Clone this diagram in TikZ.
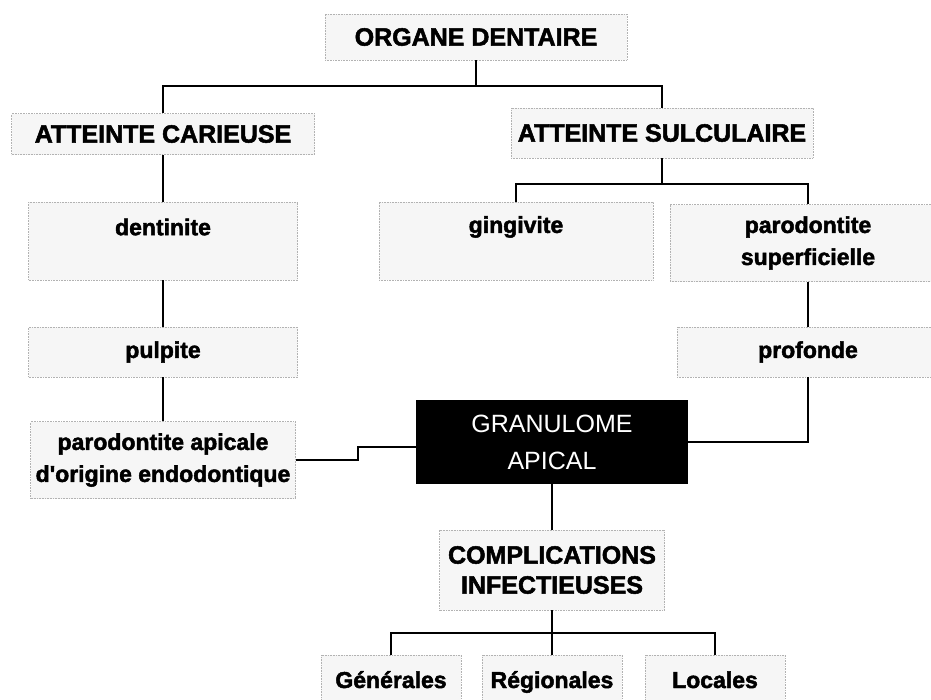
\documentclass[tikz,border=0pt]{standalone}
\usepackage{fontspec}
\setmainfont{Liberation Sans}[BoldFeatures={FakeBold=2}]
\usetikzlibrary{calc}
\tikzset{
	box/.style={draw=gray!60, densely dotted, line width=0.6pt, fill=gray!7, inner sep=0pt, align=center, font=\bfseries\fontsize{23}{32}\selectfont},
	capsbox/.style={box, font=\bfseries\fontsize{25}{30}\selectfont},
	botbox/.style={box, minimum width=140, minimum height=54, text height=17pt, text depth=5pt},
	lbl/.style={inner sep=0pt, align=center, font=\bfseries\fontsize{23}{32}\selectfont},
	darkbox/.style={fill=black, draw=black, inner sep=0pt, align=center, text=white, font=\fontsize{25}{37}\selectfont},
	link/.style={line width=1.7pt}
}

\begin{document}
\begin{tikzpicture}[x=1pt,y=-1pt]
	\useasboundingbox (0,0) rectangle (931,699);
	% first two levels
	\node[capsbox, minimum width=302, minimum height=46] (organe) at (476,37) {ORGANE DENTAIRE};
	\node[capsbox, minimum width=303, minimum height=41] (carieuse) at (163,134) {ATTEINTE CARIEUSE};
	\node[capsbox, minimum width=302, minimum height=50] (sulculaire) at (662,133) {ATTEINTE SULCULAIRE};
	
	% carious branch
	\node[box, minimum width=269, minimum height=78] (dentinite) at (163,241) {};
	\node[lbl] (dentinite-t) at (163,227) {dentinite};
	\node[box, minimum width=269, minimum height=50] (pulpite) at (163,352) {pulpite};
	\node[box, minimum width=265, minimum height=77] (apicale) at (163,460) {parodontite apicale\\d\textquotesingle origine endodontique};
	
	% periodontal branch
	\node[box, minimum width=274, minimum height=78] (gingivite) at (516,241) {};
	\node[lbl] (gingivite-t) at (516,227) {gingivite};
	\node[box, minimum width=276, minimum height=77] (superf) at (808,243) {parodontite\\superficielle};
	\node[box, minimum width=262, minimum height=50] (profonde) at (808,352) {profonde};
	
	% common end
	\node[darkbox, minimum width=271, minimum height=83] (granulome) at (552,442) {GRANULOME\\APICAL};
	\node[capsbox, minimum width=225, minimum height=80] (complic) at (552,570) {COMPLICATIONS\\INFECTIEUSES};
	\node[botbox] (generales) at (391,682) {Générales};
	\node[botbox] (regionales) at (552,682) {Régionales};
	\node[botbox] (locales) at (715,682) {Locales};
	
	% connectors
	\coordinate (split1) at (476,86);
	\coordinate (split2) at (662,184);
	\coordinate (split3) at (552,633);
	\coordinate (step) at (358,447);
	\draw[link] (organe.south) -- (split1);
	\draw[link] (carieuse.north) |- (split1) -| (sulculaire.north);
	\draw[link] (carieuse.south) -- (dentinite.north);
	\draw[link] (dentinite.south) -- (pulpite.north);
	\draw[link] (pulpite.south) -- (apicale.north);
	\draw[link] (sulculaire.south) -- (split2);
	\draw[link] (gingivite.north) |- (split2) -| (superf.north);
	\draw[link] (superf.south) -- (profonde.north);
	\draw[link] (profonde.south) |- (granulome.east);
	\draw[link] (apicale.east) -| (step) -- (step -| granulome.west);
	\draw[link] (granulome.south) -- (complic.north);
	\draw[link] (complic.south) -- (split3);
	\draw[link] (generales.north) |- (split3) -| (locales.north);
	\draw[link] (split3) -- (regionales.north);
\end{tikzpicture}
\end{document}
